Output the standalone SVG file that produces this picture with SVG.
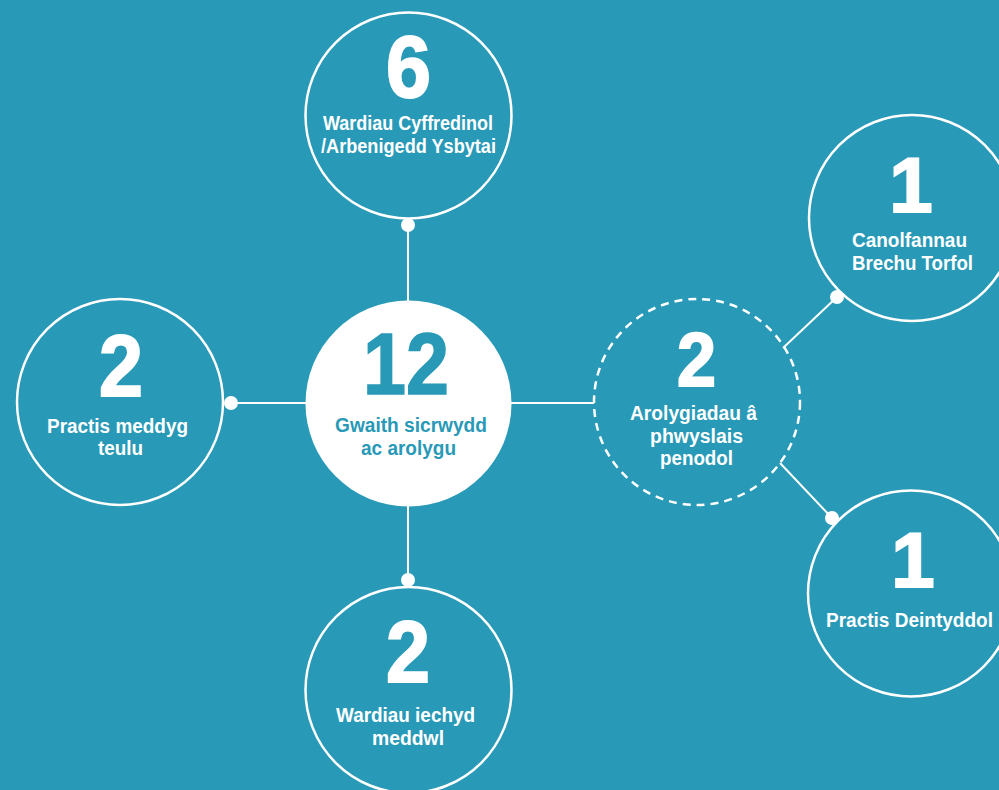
<svg xmlns="http://www.w3.org/2000/svg" width="999" height="790" viewBox="0 0 999 790">
<style>
.bg{fill:#2899b6}
.ring{fill:none;stroke:#fff;stroke-width:2.5}
.dash{fill:none;stroke:#fff;stroke-width:2.5;stroke-dasharray:8 6}
.hub{fill:#fff}
.conn{stroke:#fff;stroke-width:2;fill:none}
.dot{fill:#fff}
text{font-family:"Liberation Sans",Arial,sans-serif;font-weight:bold;text-anchor:middle}
.num{fill:#fff;stroke:#fff;stroke-width:2;font-size:88px}
.lbl{fill:#fff;font-size:20px}
.hubnum{fill:#2899b6;stroke:#2899b6;stroke-width:1.5;font-size:88px}
.hublbl{fill:#2899b6;font-size:20px}
</style>
<rect class="bg" x="0" y="0" width="999" height="790"/>
<g id="connectors">
<line class="conn" x1="408" y1="225" x2="408" y2="302"/>
<line class="conn" x1="231" y1="403" x2="307" y2="403"/>
<line class="conn" x1="408" y1="504" x2="408" y2="580"/>
<line class="conn" x1="510" y1="403" x2="594" y2="403"/>
<line class="conn" x1="783" y1="348" x2="837" y2="297"/>
<line class="conn" x1="780" y1="463" x2="832" y2="518"/>
<circle class="dot" cx="408" cy="225" r="7"/>
<circle class="dot" cx="231" cy="403" r="7"/>
<circle class="dot" cx="408" cy="580" r="7"/>
<circle class="dot" cx="837" cy="297" r="7"/>
<circle class="dot" cx="832" cy="518" r="7"/>
</g>
<g id="hub">
<circle class="hub" cx="408.5" cy="403.5" r="103"/>
<text class="hubnum" x="406" y="394" textLength="86" lengthAdjust="spacingAndGlyphs">12</text>
<text class="hublbl" x="411" y="432" textLength="152" lengthAdjust="spacingAndGlyphs">Gwaith sicrwydd</text>
<text class="hublbl" x="408.5" y="455" textLength="95" lengthAdjust="spacingAndGlyphs">ac arolygu</text>
</g>
<g id="node-top">
<circle class="ring" cx="408.5" cy="115.5" r="103"/>
<text class="num" x="408.5" y="97" textLength="45" lengthAdjust="spacingAndGlyphs">6</text>
<text class="lbl" x="408" y="130" textLength="170" lengthAdjust="spacingAndGlyphs">Wardiau Cyffredinol</text>
<text class="lbl" x="408.5" y="153" textLength="175" lengthAdjust="spacingAndGlyphs">/Arbenigedd Ysbytai</text>
</g>
<g id="node-left">
<circle class="ring" cx="120" cy="402" r="103"/>
<text class="num" x="121" y="396" textLength="44" lengthAdjust="spacingAndGlyphs">2</text>
<text class="lbl" x="117.5" y="433" textLength="141" lengthAdjust="spacingAndGlyphs">Practis meddyg</text>
<text class="lbl" x="120.5" y="455" textLength="45" lengthAdjust="spacingAndGlyphs">teulu</text>
</g>
<g id="node-bottom">
<circle class="ring" cx="408.5" cy="690" r="103"/>
<text class="num" x="408" y="682" textLength="44" lengthAdjust="spacingAndGlyphs">2</text>
<text class="lbl" x="405.5" y="722" textLength="139" lengthAdjust="spacingAndGlyphs">Wardiau iechyd</text>
<text class="lbl" x="408" y="745" textLength="72" lengthAdjust="spacingAndGlyphs">meddwl</text>
</g>
<g id="node-right">
<circle class="dash" cx="697" cy="402" r="103"/>
<text class="num" x="696.5" y="386" style="font-size:76px" textLength="39" lengthAdjust="spacingAndGlyphs">2</text>
<text class="lbl" x="693.5" y="420" textLength="127" lengthAdjust="spacingAndGlyphs">Arolygiadau â</text>
<text class="lbl" x="696.5" y="443" textLength="93" lengthAdjust="spacingAndGlyphs">phwyslais</text>
<text class="lbl" x="696.5" y="465" textLength="73" lengthAdjust="spacingAndGlyphs">penodol</text>
</g>
<g id="node-topright">
<circle class="ring" cx="912" cy="218" r="103"/>
<text class="num" x="911" y="212" style="font-size:78px">1</text>
<text class="lbl" x="909.5" y="247" textLength="115" lengthAdjust="spacingAndGlyphs">Canolfannau</text>
<text class="lbl" x="912.5" y="270" textLength="121" lengthAdjust="spacingAndGlyphs">Brechu Torfol</text>
</g>
<g id="node-bottomright">
<circle class="ring" cx="911" cy="593.5" r="103"/>
<text class="num" x="913" y="587" style="font-size:78px">1</text>
<text class="lbl" x="909.5" y="627" textLength="167" lengthAdjust="spacingAndGlyphs">Practis Deintyddol</text>
</g>
</svg>
